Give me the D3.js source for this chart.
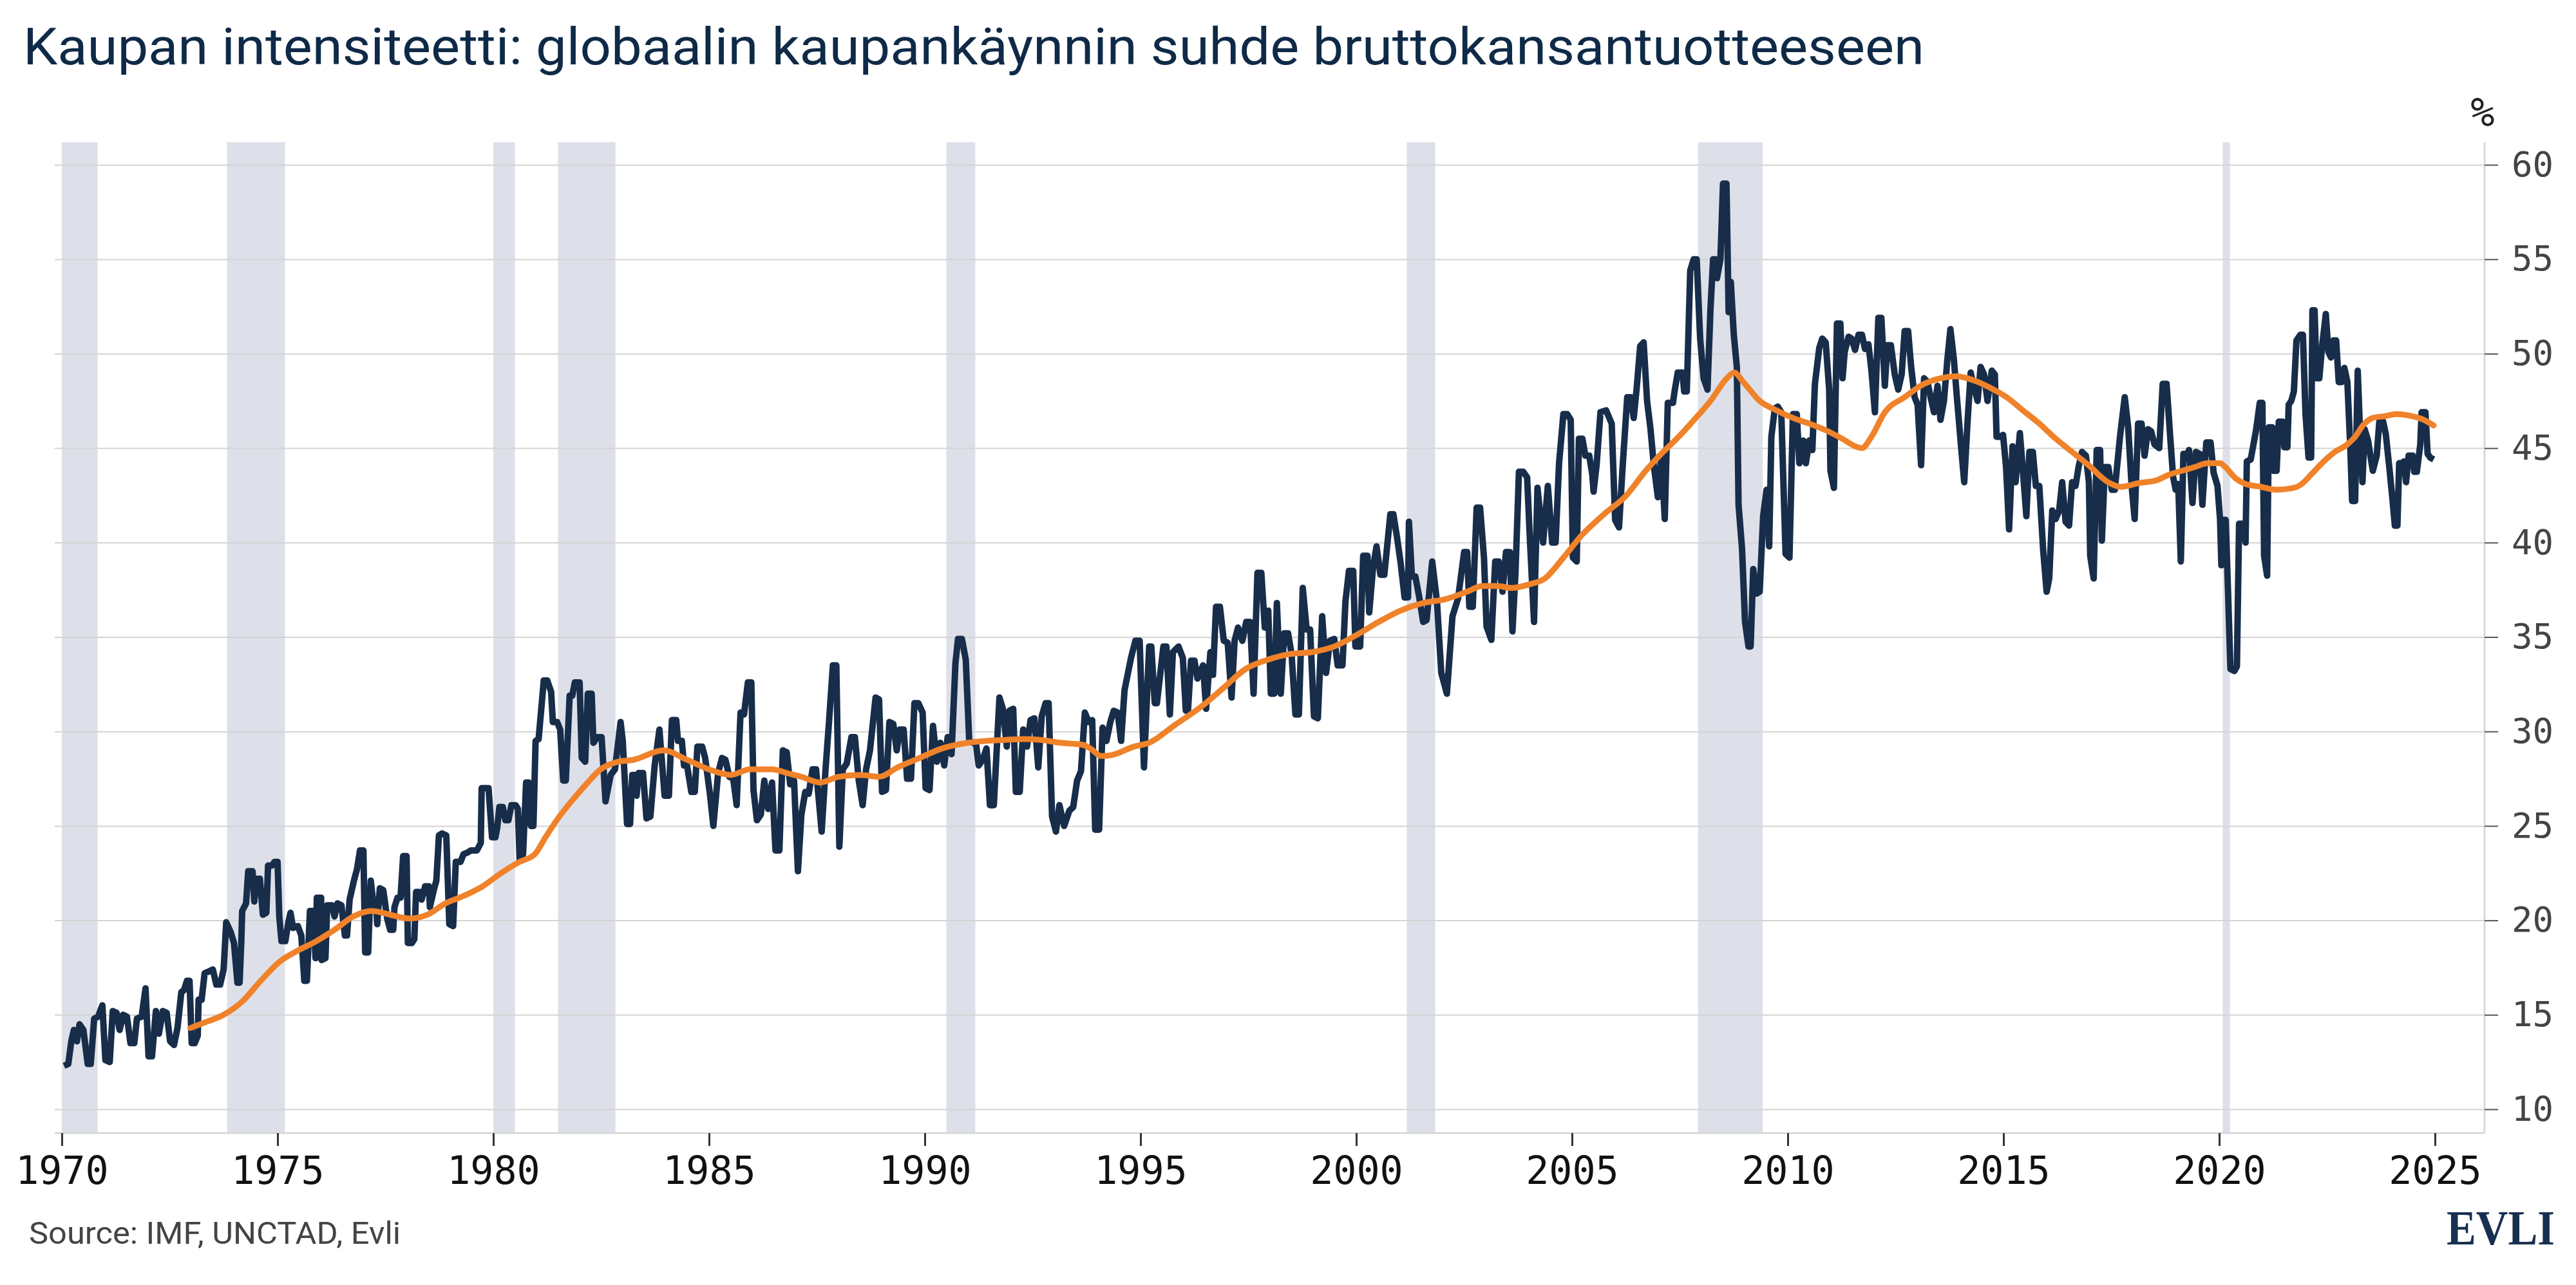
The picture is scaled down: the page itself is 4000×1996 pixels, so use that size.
<!DOCTYPE html>
<html>
<head>
<meta charset="utf-8">
<script src="https://cdn.jsdelivr.net/npm/d3@7"></script>
<style>
  html, body { margin: 0; padding: 0; background: #ffffff; }
  svg { display: block; }
</style>
</head>
<body>
<svg id="chart" width="4000" height="1996"></svg>
<script>
// ---------------- DATA ----------------
const titleText = "Kaupan intensiteetti: globaalin kaupankäynnin suhde bruttokansantuotteeseen";
const sourceText = "Source: IMF, UNCTAD, Evli";
const unitLabel = "%";
const xTicks = [1970, 1975, 1980, 1985, 1990, 1995, 2000, 2005, 2010, 2015, 2020, 2025];
const yTicks = [10, 15, 20, 25, 30, 35, 40, 45, 50, 55, 60];
const recessions = [[1970.0, 1970.83], [1973.83, 1975.17], [1980.0, 1980.5], [1981.5, 1982.83],
  [1990.5, 1991.17], [2001.17, 2001.83], [2007.92, 2009.42], [2020.08, 2020.25]];

// Trade intensity (% of GDP), [year, value]
const navy1970s = [[1970.05,12.3],[1970.15,12.4],[1970.22,13.6],[1970.28,14.2],[1970.35,13.6],[1970.41,14.5],[1970.50,14.2],[1970.60,12.4],[1970.67,12.4],[1970.75,14.8],[1970.84,14.9],[1970.94,15.5],[1971.01,12.6],[1971.11,12.5],[1971.18,15.2],[1971.27,15.1],[1971.34,14.2],[1971.42,15.0],[1971.51,14.9],[1971.59,13.5],[1971.68,13.5],[1971.74,14.8],[1971.85,14.9],[1971.94,16.4],[1972.01,12.8],[1972.09,12.8],[1972.18,15.2],[1972.25,14.0],[1972.34,15.2],[1972.43,15.1],[1972.51,13.6],[1972.60,13.4],[1972.68,14.3],[1972.77,16.2],[1972.83,16.3],[1972.90,16.8],[1972.96,16.8],[1973.01,13.5],[1973.08,13.5],[1973.15,13.9],[1973.17,15.8],[1973.24,15.8],[1973.31,17.2],[1973.41,17.3],[1973.50,17.4],[1973.58,16.6],[1973.67,16.6],[1973.75,17.4],[1973.81,19.9],[1973.91,19.4],[1973.99,18.8],[1974.07,16.7],[1974.12,16.7],[1974.16,18.9],[1974.18,20.5],[1974.27,20.9],[1974.32,22.6],[1974.42,22.6],[1974.46,21.0],[1974.51,22.2],[1974.59,22.2],[1974.66,20.3],[1974.74,20.4],[1974.78,22.9],[1974.87,22.9],[1974.93,23.1],[1975.00,23.1],[1975.04,20.2],[1975.09,18.9],[1975.18,18.9],[1975.25,19.9],[1975.30,20.4],[1975.36,19.6],[1975.47,19.7],[1975.55,19.2],[1975.62,16.8],[1975.68,16.8],[1975.75,20.5],[1975.83,20.5],[1975.88,18.0],[1975.91,21.2],[1976.01,21.2],[1976.02,17.9],[1976.11,18.0],[1976.15,20.8],[1976.26,20.8],[1976.32,20.2],[1976.39,20.9],[1976.48,20.8],[1976.56,19.2],[1976.61,19.2],[1976.67,21.1],[1976.77,22.1],[1976.84,22.7],[1976.91,23.7],[1976.99,23.7],[1977.03,18.3],[1977.10,18.3],[1977.16,22.1],[1977.22,20.9],[1977.28,20.9],[1977.31,19.8],[1977.37,21.7],[1977.45,21.6],[1977.54,20.1],[1977.61,19.5],[1977.68,19.5],[1977.71,20.7],[1977.78,21.2],[1977.85,21.2],[1977.91,23.4],[1977.99,23.4],[1978.02,18.8],[1978.11,18.8],[1978.17,19.0],[1978.21,21.5],[1978.29,21.5],[1978.34,21.1],[1978.42,21.8],[1978.51,21.8],[1978.53,20.7],[1978.62,21.6],[1978.68,22.1],[1978.74,24.5],[1978.81,24.6],[1978.91,24.5],[1978.98,19.8],[1979.07,19.7],[1979.13,23.1],[1979.24,23.1],[1979.31,23.5],[1979.41,23.6],[1979.48,23.7],[1979.62,23.7],[1979.71,24.1],[1979.73,27.0],[1979.84,27.0],[1979.89,27.0],[1979.97,24.4]];

const navy1980s = [[1980.05,24.4],[1980.09,24.9],[1980.14,26.0],[1980.22,26.0],[1980.28,25.3],[1980.35,25.3],[1980.42,26.1],[1980.52,26.1],[1980.57,25.9],[1980.61,23.2],[1980.69,23.5],[1980.76,27.3],[1980.82,27.3],[1980.87,25.0],[1980.93,25.0],[1980.98,29.5],[1981.05,29.6],[1981.17,32.7],[1981.25,32.7],[1981.34,32.1],[1981.38,30.5],[1981.48,30.5],[1981.55,30.1],[1981.62,27.4],[1981.68,27.4],[1981.77,31.9],[1981.83,31.9],[1981.89,32.6],[1982.00,32.6],[1982.05,28.6],[1982.13,28.4],[1982.19,32.0],[1982.28,32.0],[1982.32,29.4],[1982.41,29.7],[1982.51,29.7],[1982.60,26.3],[1982.72,27.7],[1982.82,28.0],[1982.95,30.5],[1983.00,29.5],[1983.10,25.1],[1983.17,25.1],[1983.22,27.7],[1983.27,27.7],[1983.32,26.6],[1983.37,27.8],[1983.47,27.8],[1983.55,25.4],[1983.64,25.5],[1983.74,28.2],[1983.85,30.1],[1983.97,26.6],[1984.07,26.6],[1984.14,30.6],[1984.24,30.6],[1984.28,29.5],[1984.37,29.5],[1984.42,28.2],[1984.49,28.2],[1984.59,26.8],[1984.67,26.8],[1984.73,29.2],[1984.84,29.2],[1984.91,28.6],[1985.02,26.7],[1985.10,25.0],[1985.21,27.8],[1985.30,28.6],[1985.38,28.5],[1985.47,27.6],[1985.56,27.5],[1985.64,26.1],[1985.73,31.0],[1985.81,30.9],[1985.90,32.6],[1985.98,32.6],[1986.03,26.9],[1986.11,25.3],[1986.20,25.6],[1986.28,27.4],[1986.37,25.9],[1986.46,27.3],[1986.54,23.7],[1986.63,23.7],[1986.71,29.0],[1986.80,28.9],[1986.88,27.2],[1986.97,27.4],[1987.06,22.6],[1987.14,25.6],[1987.23,26.8],[1987.31,26.7],[1987.40,28.0],[1987.48,28.0],[1987.61,24.7],[1987.70,28.0],[1987.78,30.5],[1987.87,33.5],[1987.95,33.5],[1988.02,23.9],[1988.10,28.0],[1988.19,28.3],[1988.30,29.7],[1988.38,29.7],[1988.47,27.4],[1988.56,26.1],[1988.64,28.0],[1988.73,29.0],[1988.86,31.8],[1988.94,31.7],[1989.01,26.8],[1989.10,26.9],[1989.18,30.5],[1989.27,30.4],[1989.35,29.0],[1989.42,30.1],[1989.51,30.1],[1989.59,27.5],[1989.68,27.5],[1989.76,31.5],[1989.85,31.5],[1989.95,31.0]];

const navy1990s = [[1990.02,27.0],[1990.11,26.9],[1990.19,30.3],[1990.28,28.4],[1990.36,29.4],[1990.45,28.2],[1990.53,29.7],[1990.62,28.8],[1990.71,33.6],[1990.77,34.9],[1990.86,34.9],[1990.95,33.8],[1991.03,29.5],[1991.12,29.4],[1991.19,29.3],[1991.25,28.2],[1991.34,28.5],[1991.43,29.1],[1991.51,26.1],[1991.60,26.1],[1991.73,31.8],[1991.81,31.2],[1991.90,29.2],[1991.96,31.1],[1992.05,31.2],[1992.11,26.8],[1992.20,26.8],[1992.28,30.1],[1992.37,29.2],[1992.45,30.6],[1992.54,30.7],[1992.63,28.1],[1992.71,30.8],[1992.80,31.5],[1992.87,31.5],[1992.95,25.5],[1993.04,24.7],[1993.12,26.1],[1993.23,25.0],[1993.35,25.8],[1993.44,26.0],[1993.53,27.4],[1993.62,27.9],[1993.71,31.0],[1993.80,30.5],[1993.88,30.6],[1993.95,24.8],[1994.04,24.8],[1994.12,30.2],[1994.21,29.5],[1994.30,30.5],[1994.38,31.1],[1994.47,31.0],[1994.55,29.5],[1994.63,32.2],[1994.78,33.9],[1994.88,34.8],[1994.98,34.8],[1995.08,28.1],[1995.20,34.5],[1995.25,34.5],[1995.33,31.5],[1995.38,31.5],[1995.53,34.5],[1995.60,34.5],[1995.68,30.9],[1995.75,34.2],[1995.88,34.5],[1995.98,33.9],[1996.05,31.1],[1996.10,31.1],[1996.17,33.75],[1996.25,33.75],[1996.32,32.8],[1996.45,33.5],[1996.52,31.2],[1996.62,34.2],[1996.68,33.0],[1996.75,36.6],[1996.84,36.6],[1996.93,34.8],[1997.02,34.7],[1997.11,31.8],[1997.18,34.8],[1997.26,35.5],[1997.36,34.8],[1997.45,35.8],[1997.54,35.8],[1997.62,32.0],[1997.71,38.4],[1997.80,38.4],[1997.88,35.5],[1997.96,36.4],[1998.02,32.0],[1998.10,32.0],[1998.16,36.8],[1998.25,32.0],[1998.33,35.2],[1998.42,35.2],[1998.50,34.1],[1998.59,30.9],[1998.67,30.9],[1998.76,37.6],[1998.85,35.4],[1998.93,35.4],[1999.02,30.8],[1999.11,30.7],[1999.21,36.1],[1999.30,33.1],[1999.39,34.8],[1999.49,34.9],[1999.57,33.5],[1999.68,33.5],[1999.75,36.9],[1999.83,38.5],[1999.93,38.5],[1999.98,34.5]];

const navy2000s = [[2000.09,34.5],[2000.16,39.3],[2000.26,39.3],[2000.30,36.3],[2000.39,38.7],[2000.47,39.8],[2000.56,38.3],[2000.65,38.3],[2000.79,41.5],[2000.86,41.5],[2000.95,40.2],[2001.03,38.9],[2001.12,37.1],[2001.20,37.1],[2001.22,41.1],[2001.29,38.2],[2001.37,38.2],[2001.46,37.1],[2001.55,35.8],[2001.63,35.9],[2001.76,39.0],[2001.87,36.9],[2001.97,33.1],[2002.10,32.0],[2002.23,36.1],[2002.36,37.05],[2002.50,39.5],[2002.57,39.5],[2002.62,36.6],[2002.70,36.6],[2002.79,41.85],[2002.87,41.85],[2002.96,39.2],[2003.02,35.55],[2003.13,34.85],[2003.22,39.0],[2003.30,39.0],[2003.39,37.4],[2003.47,39.5],[2003.56,39.5],[2003.62,35.3],[2003.69,38.4],[2003.77,43.75],[2003.87,43.75],[2003.96,43.45],[2004.03,39.9],[2004.12,35.8],[2004.20,42.9],[2004.33,40.0],[2004.44,43.0],[2004.54,40.0],[2004.62,40.0],[2004.70,44.2],[2004.80,46.8],[2004.89,46.8],[2004.97,46.5],[2005.02,39.2],[2005.11,39.0],[2005.16,45.5],[2005.24,45.5],[2005.31,44.6],[2005.40,44.6],[2005.47,43.6],[2005.50,42.7],[2005.57,44.1],[2005.66,46.9],[2005.79,47.0],[2005.92,46.3],[2006.00,41.2],[2006.09,40.8],[2006.17,43.9],[2006.28,47.7],[2006.36,47.7],[2006.43,46.6],[2006.50,48.2],[2006.58,50.4],[2006.66,50.6],[2006.74,47.5],[2006.82,46.0],[2006.90,44.0],[2006.99,42.4],[2007.07,44.6],[2007.15,41.25],[2007.22,47.4],[2007.34,47.4],[2007.37,47.9],[2007.45,49.0],[2007.56,49.0],[2007.60,48.0],[2007.66,48.0],[2007.74,54.4],[2007.82,55.0],[2007.89,55.0],[2007.97,50.8],[2008.05,48.7],[2008.14,48.1],[2008.21,52.4],[2008.27,55.0],[2008.32,55.0],[2008.36,54.0],[2008.44,55.0],[2008.50,59.0],[2008.58,59.0],[2008.63,52.2],[2008.68,53.8],[2008.75,51.0],[2008.82,49.3],[2008.86,42.0],[2008.94,39.7],[2009.01,35.8],[2009.09,34.5],[2009.14,34.5],[2009.20,38.6],[2009.28,37.3],[2009.35,37.4],[2009.43,41.4],[2009.51,42.8],[2009.57,39.8],[2009.62,45.6],[2009.70,47.1],[2009.77,47.2],[2009.85,46.9],[2009.95,39.4]];

const navy2010s = [[2010.04,39.2],[2010.12,46.8],[2010.21,46.8],[2010.27,44.2],[2010.36,45.4],[2010.42,44.2],[2010.50,45.4],[2010.57,44.9],[2010.63,48.4],[2010.73,50.3],[2010.80,50.8],[2010.88,50.6],[2010.96,48.1],[2010.99,43.8],[2011.07,42.9],[2011.14,51.6],[2011.22,51.6],[2011.27,48.7],[2011.32,50.1],[2011.41,50.9],[2011.48,50.8],[2011.56,50.2],[2011.64,51.0],[2011.72,51.0],[2011.79,50.25],[2011.87,50.5],[2011.94,49.1],[2012.02,46.9],[2012.10,51.9],[2012.17,51.9],[2012.25,48.3],[2012.31,50.45],[2012.39,50.45],[2012.48,48.9],[2012.56,48.1],[2012.64,48.9],[2012.71,51.2],[2012.79,51.2],[2012.86,49.3],[2012.94,47.7],[2013.01,47.3],[2013.09,44.1],[2013.16,48.7],[2013.24,48.5],[2013.31,47.7],[2013.39,46.9],[2013.47,48.3],[2013.54,46.5],[2013.62,47.5],[2013.70,49.7],[2013.77,51.3],[2013.85,49.7],[2013.92,47.7],[2014.02,45.0],[2014.09,43.2],[2014.17,46.5],[2014.24,49.0],[2014.32,48.2],[2014.40,47.5],[2014.47,49.3],[2014.55,48.9],[2014.63,47.5],[2014.73,49.1],[2014.80,48.9],[2014.84,45.6],[2014.92,45.6],[2014.99,45.7],[2015.06,44.0],[2015.13,40.7],[2015.21,45.1],[2015.28,43.2],[2015.38,45.8],[2015.45,43.8],[2015.53,41.4],[2015.60,44.8],[2015.68,44.8],[2015.75,43.0],[2015.83,43.0],[2015.92,39.6],[2016.00,37.4],[2016.06,38.1],[2016.13,41.7],[2016.21,41.25],[2016.29,41.7],[2016.36,43.2],[2016.44,41.1],[2016.52,40.9],[2016.59,43.2],[2016.67,43.0],[2016.74,44.0],[2016.82,44.8],[2016.91,44.6],[2016.98,43.2],[2017.01,39.3],[2017.09,38.1],[2017.16,44.9],[2017.24,44.9],[2017.28,40.1],[2017.35,44.0],[2017.43,44.0],[2017.51,42.8],[2017.58,42.8],[2017.70,45.6],[2017.81,47.7],[2017.89,46.1],[2017.97,43.0],[2018.04,41.25],[2018.12,46.3],[2018.20,46.3],[2018.27,44.6],[2018.35,46.0],[2018.42,45.9],[2018.50,45.2],[2018.61,45.0],[2018.69,48.4],[2018.78,48.4],[2018.87,45.4],[2018.93,43.5],[2018.99,42.8],[2019.05,43.1],[2019.11,39.0],[2019.17,44.7],[2019.26,44.7],[2019.30,44.9],[2019.38,42.1],[2019.46,44.8],[2019.55,44.7],[2019.61,42.0],[2019.70,45.3],[2019.80,45.3],[2019.87,43.7],[2019.96,43.0]];

const navy2020s = [[2020.02,41.2],[2020.05,38.8],[2020.11,41.2],[2020.15,41.2],[2020.20,37.7],[2020.26,33.3],[2020.35,33.2],[2020.41,33.45],[2020.46,41.0],[2020.55,41.0],[2020.61,40.0],[2020.64,44.3],[2020.73,44.4],[2020.85,45.9],[2020.94,47.4],[2021.00,47.4],[2021.04,39.3],[2021.11,38.25],[2021.15,46.1],[2021.23,46.1],[2021.26,43.8],[2021.33,43.8],[2021.38,46.4],[2021.47,46.4],[2021.51,45.05],[2021.58,45.05],[2021.61,47.3],[2021.67,47.5],[2021.73,48.0],[2021.79,50.7],[2021.88,51.0],[2021.94,51.0],[2022.00,46.8],[2022.07,44.5],[2022.13,44.5],[2022.16,52.3],[2022.21,52.3],[2022.26,48.7],[2022.32,48.7],[2022.38,50.3],[2022.47,52.1],[2022.53,50.1],[2022.59,49.8],[2022.65,50.7],[2022.71,50.7],[2022.77,48.5],[2022.84,48.5],[2022.90,49.25],[2022.97,48.5],[2023.04,44.9],[2023.08,42.2],[2023.15,42.2],[2023.21,49.1],[2023.26,46.1],[2023.32,43.2],[2023.37,46.0],[2023.45,45.4],[2023.51,44.5],[2023.56,43.8],[2023.65,44.6],[2023.71,46.4],[2023.80,46.4],[2023.86,45.75],[2023.95,43.8],[2024.01,42.4],[2024.07,40.9],[2024.13,40.9],[2024.17,44.2],[2024.25,44.2],[2024.28,44.3],[2024.33,43.2],[2024.39,44.6],[2024.48,44.6],[2024.52,43.75],[2024.58,43.75],[2024.66,45.2],[2024.69,46.9],[2024.78,46.9],[2024.83,44.7],[2024.89,44.5],[2024.97,44.4]];

// Moving average (orange), [year, value]
const trend1973_1999 = [[1972.98,14.3],[1973.32,14.6],[1973.75,15.0],[1974.18,15.7],[1974.61,16.8],[1975.04,17.8],[1975.47,18.4],[1975.90,18.9],[1976.32,19.5],[1976.75,20.2],[1977.18,20.5],[1977.61,20.3],[1978.04,20.1],[1978.47,20.3],[1978.89,20.9],[1979.32,21.3],[1979.75,21.8],[1980.18,22.5],[1980.61,23.1],[1980.96,23.5],[1981.21,24.4],[1981.50,25.4],[1981.81,26.3],[1982.15,27.2],[1982.49,28.0],[1982.90,28.4],[1983.25,28.5],[1983.94,29.0],[1984.49,28.5],[1984.99,28.0],[1985.51,27.7],[1985.94,28.0],[1986.46,28.0],[1986.80,27.8],[1987.14,27.6],[1987.57,27.3],[1988.00,27.6],[1988.51,27.7],[1988.94,27.6],[1989.37,28.1],[1989.88,28.6],[1990.40,29.1],[1991.00,29.4],[1991.43,29.5],[1991.85,29.55],[1992.28,29.6],[1992.71,29.55],[1993.14,29.4],[1993.65,29.3],[1993.84,29.1],[1994.09,28.7],[1994.33,28.75],[1994.85,29.2],[1995.20,29.4],[1995.80,30.35],[1996.40,31.3],[1996.92,32.3],[1997.43,33.3],[1997.95,33.8],[1998.46,34.1],[1998.97,34.2],[1999.49,34.5]];
const trend2000_2025 = [[2000.00,35.1],[2000.52,35.8],[2001.03,36.4],[2001.55,36.8],[2002.06,37.0],[2002.57,37.4],[2002.92,37.7],[2003.26,37.7],[2003.60,37.6],[2004.03,37.8],[2004.37,38.1],[2004.80,39.2],[2005.23,40.4],[2005.74,41.5],[2006.26,42.5],[2006.69,43.75],[2007.07,44.7],[2007.45,45.55],[2007.83,46.5],[2008.21,47.5],[2008.59,48.7],[2008.76,49.0],[2008.97,48.5],[2009.35,47.5],[2009.74,47.0],[2010.12,46.6],[2010.50,46.3],[2010.88,45.95],[2011.26,45.5],[2011.56,45.1],[2011.72,45.0],[2011.94,45.6],[2012.25,46.9],[2012.71,47.7],[2013.16,48.4],[2013.54,48.7],[2013.92,48.8],[2014.30,48.6],[2014.69,48.2],[2015.07,47.7],[2015.45,47.0],[2015.83,46.3],[2016.21,45.5],[2016.59,44.8],[2016.97,44.1],[2017.42,43.2],[2017.72,42.95],[2018.13,43.15],[2018.55,43.3],[2018.84,43.6],[2019.14,43.8],[2019.43,44.0],[2019.73,44.2],[2020.02,44.2],[2020.14,44.0],[2020.38,43.4],[2020.61,43.1],[2020.97,42.95],[2021.32,42.8],[2021.73,42.9],[2021.91,43.1],[2022.15,43.65],[2022.38,44.2],[2022.68,44.8],[2022.97,45.2],[2023.15,45.6],[2023.33,46.2],[2023.56,46.6],[2023.86,46.7],[2024.10,46.8],[2024.45,46.7],[2024.74,46.5],[2024.97,46.2]];

// ---------------- DRAW ----------------
const navy = [].concat(navy1970s, navy1980s, navy1990s, navy2000s, navy2010s, navy2020s);
const trend = [].concat(trend1973_1999, trend2000_2025);

const svg = d3.select("#chart");
const plotLeft = 85, plotRight = 3858, plotTop = 221, plotBottom = 1760;

const x = d3.scaleLinear().domain([1970, 2025]).range([96, 3781]);
const y = d3.scaleLinear().domain([10, 60]).range([1723, 256]);

// Title
svg.append("text")
  .attr("x", 36).attr("y", 100)
  .attr("font-family", "Roboto, 'Noto Sans', sans-serif")
  .attr("font-size", 80)
  .attr("fill", "#0f2a47")
  .attr("textLength", 2952)
  .attr("lengthAdjust", "spacingAndGlyphs")
  .text(titleText);

// Recession shading
svg.append("g").selectAll("rect").data(recessions).join("rect")
  .attr("x", d => x(d[0]))
  .attr("width", d => x(d[1]) - x(d[0]))
  .attr("y", plotTop)
  .attr("height", plotBottom - plotTop)
  .attr("fill", "#dde0e8");

// Gridlines
const grid = svg.append("g").attr("transform", `translate(${plotLeft},0)`)
  .call(d3.axisRight(y).tickValues(yTicks).tickSize(plotRight - plotLeft).tickFormat(""));
grid.select(".domain").remove();
grid.selectAll(".tick line").attr("stroke", "#d4d4d4").attr("stroke-width", 2);

// Bottom baseline
svg.append("line")
  .attr("x1", plotLeft).attr("x2", plotRight)
  .attr("y1", plotBottom).attr("y2", plotBottom)
  .attr("stroke", "#d4d4d4").attr("stroke-width", 2.5);

// Right axis line
svg.append("line")
  .attr("x1", plotRight).attr("x2", plotRight)
  .attr("y1", plotTop).attr("y2", plotBottom)
  .attr("stroke", "#d9d9d9").attr("stroke-width", 3);

// Right y axis
const yAxis = svg.append("g").attr("transform", `translate(${plotRight},0)`)
  .call(d3.axisRight(y).tickValues(yTicks).tickSize(21).tickPadding(10).tickFormat(d3.format("d")));
yAxis.select(".domain").remove();
yAxis.selectAll(".tick line").attr("stroke", "#555").attr("stroke-width", 2);
yAxis.selectAll(".tick text")
  .attr("text-anchor", "end")
  .attr("x", 107)
  .attr("font-family", "'DejaVu Sans Mono', monospace")
  .attr("font-size", 54)
  .attr("fill", "#444");

// Unit label
svg.append("text")
  .attr("x", 3855).attr("y", 196)
  .attr("text-anchor", "middle")
  .attr("font-family", "'DejaVu Sans Mono', monospace")
  .attr("font-size", 62)
  .attr("fill", "#222")
  .text(unitLabel);

// X axis
const xAxis = svg.append("g").attr("transform", `translate(0,${plotBottom})`)
  .call(d3.axisBottom(x).tickValues(xTicks).tickSize(20).tickPadding(16).tickFormat(d3.format("d")));
xAxis.select(".domain").remove();
xAxis.selectAll(".tick line").attr("stroke", "#333").attr("stroke-width", 3);
xAxis.selectAll(".tick text")
  .attr("font-family", "'DejaVu Sans Mono', monospace")
  .attr("font-size", 60)
  .attr("fill", "#111");

// Lines
const line = d3.line().x(d => x(d[0])).y(d => y(d[1]));
svg.append("path")
  .datum(navy)
  .attr("d", line)
  .attr("fill", "none")
  .attr("stroke", "#172d4a")
  .attr("stroke-width", 10)
  .attr("stroke-linejoin", "round");

svg.append("path")
  .datum(trend)
  .attr("d", line.curve(d3.curveMonotoneX))
  .attr("fill", "none")
  .attr("stroke", "#f0822a")
  .attr("stroke-width", 9)
  .attr("stroke-linejoin", "round")
  .attr("stroke-linecap", "round");

// Source
svg.append("text")
  .attr("x", 45).attr("y", 1932)
  .attr("font-family", "Roboto, 'Noto Sans', sans-serif")
  .attr("font-size", 48)
  .attr("fill", "#444")
  .attr("textLength", 577)
  .attr("lengthAdjust", "spacingAndGlyphs")
  .text(sourceText);

// Logo
svg.append("text")
  .attr("x", 3799).attr("y", 1933)
  .attr("font-family", "'Liberation Serif', 'DejaVu Serif', serif")
  .attr("font-weight", "bold")
  .attr("font-size", 76)
  .attr("fill", "#17304f")
  .attr("textLength", 168)
  .attr("lengthAdjust", "spacingAndGlyphs")
  .text("EVLI");
</script>
</body>
</html>
